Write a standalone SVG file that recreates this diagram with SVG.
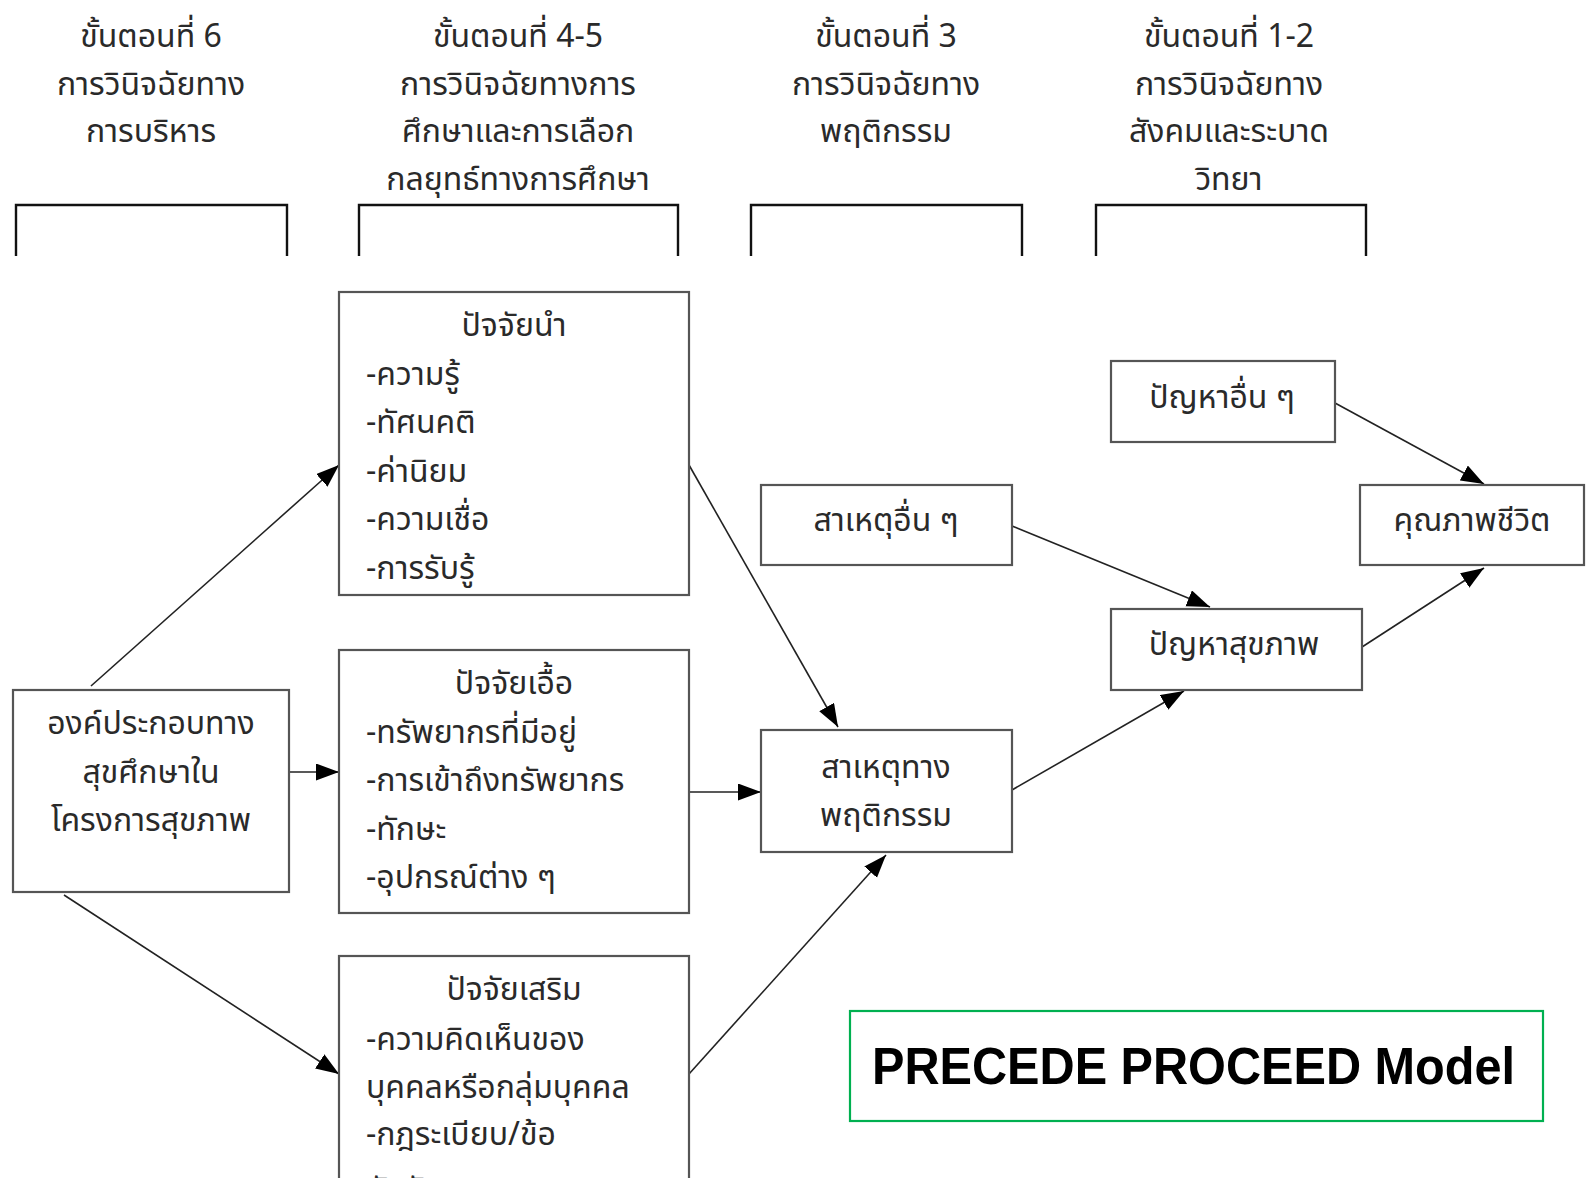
<svg xmlns="http://www.w3.org/2000/svg" width="1586" height="1178" viewBox="0 0 1586 1178">
  <style>
    .th { font-family: "Noto Sans Thai", "Noto Sans", "DejaVu Sans", sans-serif; font-size: 32px; fill: #2a2a2a; }
    .c { text-anchor: middle; }
    .box { fill: #ffffff; stroke: #555555; stroke-width: 2.2; }
    .bracket { fill: none; stroke: #111111; stroke-width: 2.4; }
    .link { fill: none; stroke: #222222; stroke-width: 1.6; marker-end: url(#head); }
    .title { font-family: "Liberation Sans", Arial, sans-serif; font-weight: bold; font-size: 52px; fill: #000000; }
  </style>
  <defs>
    <marker id="head" markerUnits="userSpaceOnUse" markerWidth="24" markerHeight="18" refX="23" refY="8.5" orient="auto">
      <path d="M0,0 L23,8.5 L0,17 z" fill="#000000"/>
    </marker>
  </defs>
  <rect width="1586" height="1178" fill="#ffffff"/>

  <!-- stage headings -->
  <g id="stage-6">
    <text class="th c" x="151" y="47">ขั้นตอนที่  6</text>
    <text class="th c" x="151" y="95">การวินิจฉัยทาง</text>
    <text class="th c" x="151" y="142">การบริหาร</text>
    <path class="bracket" d="M16,256 V205 H287 V256"/>
  </g>
  <g id="stage-4-5">
    <text class="th c" x="518" y="47">ขั้นตอนที่  4-5</text>
    <text class="th c" x="518" y="95">การวินิจฉัยทางการ</text>
    <text class="th c" x="518" y="142">ศึกษาและการเลือก</text>
    <text class="th c" x="518" y="190">กลยุทธ์ทางการศึกษา</text>
    <path class="bracket" d="M359,256 V205 H678 V256"/>
  </g>
  <g id="stage-3">
    <text class="th c" x="886" y="47">ขั้นตอนที่  3</text>
    <text class="th c" x="886" y="95">การวินิจฉัยทาง</text>
    <text class="th c" x="886" y="142">พฤติกรรม</text>
    <path class="bracket" d="M751,256 V205 H1022 V256"/>
  </g>
  <g id="stage-1-2">
    <text class="th c" x="1229" y="47">ขั้นตอนที่ 1-2</text>
    <text class="th c" x="1229" y="95">การวินิจฉัยทาง</text>
    <text class="th c" x="1229" y="142">สังคมและระบาด</text>
    <text class="th c" x="1229" y="190">วิทยา</text>
    <path class="bracket" d="M1096,256 V205 H1366 V256"/>
  </g>

  <!-- connectors -->
  <g id="connectors">
    <line class="link" x1="91" y1="686" x2="339" y2="465"/>
    <line class="link" x1="289" y1="772" x2="339" y2="772"/>
    <line class="link" x1="64" y1="895" x2="339" y2="1074"/>
    <line class="link" x1="689" y1="465" x2="838" y2="727"/>
    <line class="link" x1="689" y1="792" x2="761" y2="792"/>
    <line class="link" x1="689" y1="1074" x2="886" y2="855"/>
    <line class="link" x1="1012" y1="526" x2="1210" y2="607"/>
    <line class="link" x1="1012" y1="790" x2="1184" y2="691"/>
    <line class="link" x1="1335" y1="403" x2="1484" y2="484"/>
    <line class="link" x1="1362" y1="647" x2="1484" y2="568"/>
  </g>

  <!-- health education component -->
  <g id="health-education">
    <rect class="box" x="13" y="690" width="276" height="202" stroke="#333333"/>
    <text class="th c" x="151" y="734">องค์ประกอบทาง</text>
    <text class="th c" x="151" y="783">สุขศึกษาใน</text>
    <text class="th c" x="151" y="831">โครงการสุขภาพ</text>
  </g>

  <!-- predisposing factors -->
  <g id="predisposing">
    <rect class="box" x="339" y="292" width="350" height="303"/>
    <text class="th c" x="514" y="336">ปัจจัยนำ</text>
    <text class="th" x="366" y="385">-ความรู้</text>
    <text class="th" x="366" y="433">-ทัศนคติ</text>
    <text class="th" x="366" y="482">-ค่านิยม</text>
    <text class="th" x="366" y="530">-ความเชื่อ</text>
    <text class="th" x="366" y="579">-การรับรู้</text>
  </g>

  <!-- enabling factors -->
  <g id="enabling">
    <rect class="box" x="339" y="650" width="350" height="263"/>
    <text class="th c" x="514" y="694">ปัจจัยเอื้อ</text>
    <text class="th" x="366" y="743">-ทรัพยากรที่มีอยู่</text>
    <text class="th" x="366" y="791">-การเข้าถึงทรัพยากร</text>
    <text class="th" x="366" y="840">-ทักษะ</text>
    <text class="th" x="366" y="888">-อุปกรณ์ต่าง ๆ</text>
  </g>

  <!-- reinforcing factors -->
  <g id="reinforcing">
    <rect class="box" x="339" y="956" width="350" height="240"/>
    <text class="th c" x="514" y="1000">ปัจจัยเสริม</text>
    <text class="th" x="366" y="1050">-ความคิดเห็นของ</text>
    <text class="th" x="366" y="1098">บุคคลหรือกลุ่มบุคคล</text>
    <text class="th" x="366" y="1145">-กฎระเบียบ/ข้อ</text>
    <text class="th" x="366" y="1200">บังคับ</text>
  </g>

  <!-- other causes -->
  <g id="other-causes">
    <rect class="box" x="761" y="485" width="251" height="80"/>
    <text class="th c" x="886" y="531">สาเหตุอื่น ๆ</text>
  </g>

  <!-- behavioural causes -->
  <g id="behavioural-causes">
    <rect class="box" x="761" y="730" width="251" height="122"/>
    <text class="th c" x="886" y="778">สาเหตุทาง</text>
    <text class="th c" x="886" y="826">พฤติกรรม</text>
  </g>

  <!-- other problems -->
  <g id="other-problems">
    <rect class="box" x="1111" y="361" width="224" height="81"/>
    <text class="th c" x="1222" y="408">ปัญหาอื่น ๆ</text>
  </g>

  <!-- health problems -->
  <g id="health-problems">
    <rect class="box" x="1111" y="609" width="251" height="81" stroke="#333333"/>
    <text class="th c" x="1234" y="655">ปัญหาสุขภาพ</text>
  </g>

  <!-- quality of life -->
  <g id="quality-of-life">
    <rect class="box" x="1360" y="485" width="224" height="80"/>
    <text class="th c" x="1472" y="531">คุณภาพชีวิต</text>
  </g>

  <!-- model caption -->
  <g id="model-title">
    <rect x="850" y="1011" width="693" height="110" fill="#ffffff" stroke="#00b050" stroke-width="2.2"/>
    <text class="title" x="872" y="1084" textLength="643" lengthAdjust="spacingAndGlyphs">PRECEDE PROCEED Model</text>
  </g>
</svg>
